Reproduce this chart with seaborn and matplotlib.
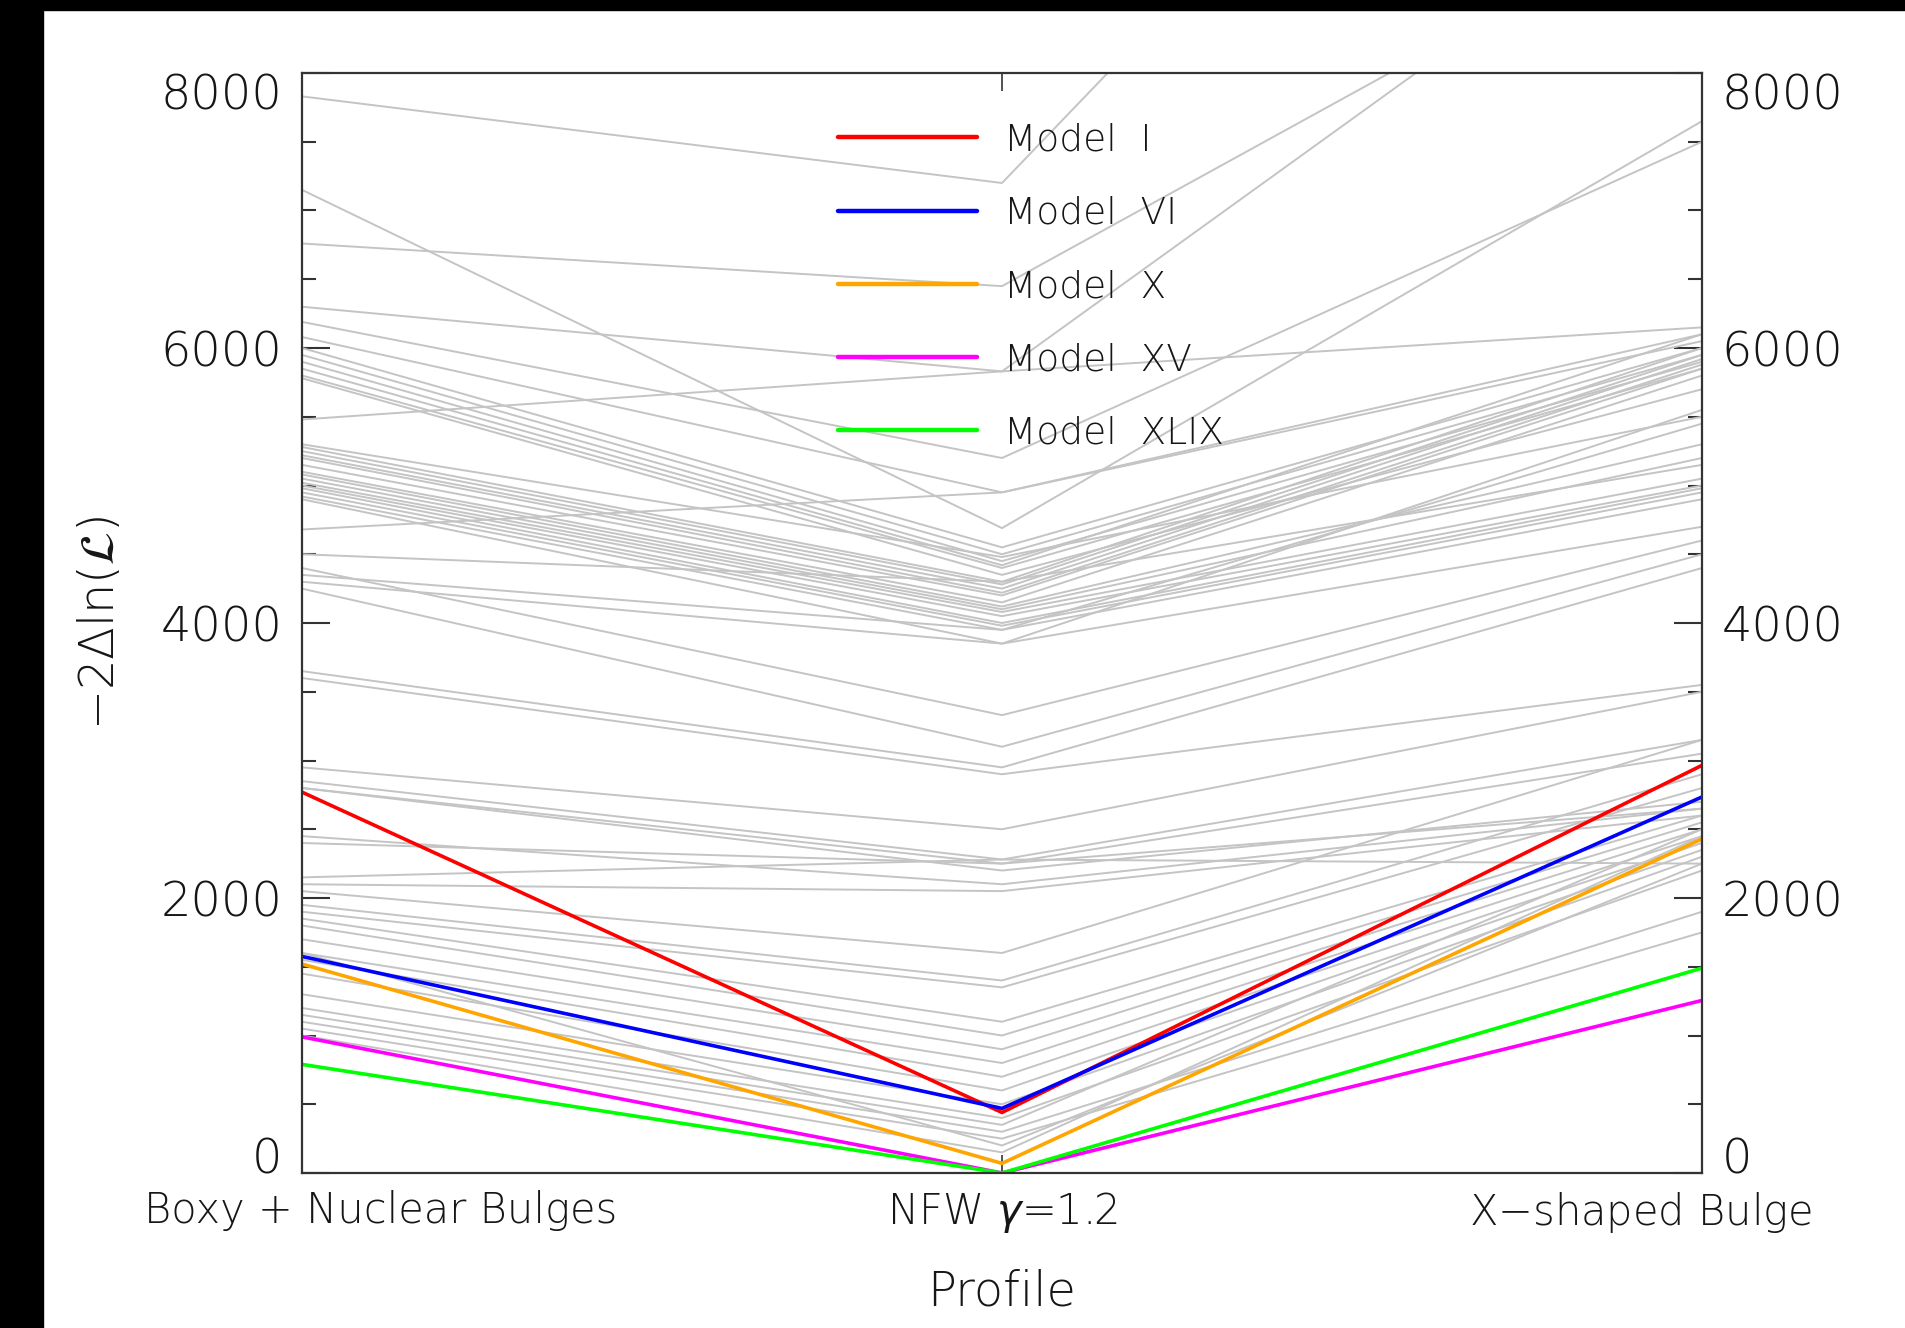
import numpy as np
import pandas as pd
import matplotlib
matplotlib.use("Agg")
import matplotlib.pyplot as plt
from matplotlib.patches import Rectangle
from matplotlib.ticker import MultipleLocator
from matplotlib.transforms import ScaledTranslation
import seaborn as sns

# Profiles on the x axis
profiles = ["Boxy + Nuclear Bulges", "NFW $\\gamma$=1.2", "X$-$shaped Bulge"]

# Highlighted models: -2 Delta ln(L) for each profile
model_names = ["Model  I", "Model  VI", "Model  X", "Model  XV", "Model  XLIX"]
model_colors = ["#ff0000", "#0000ff", "#ffa500", "#ff00ff", "#00ff00"]
model_left = [2770, 1575, 1520, 990, 790]
model_center = [440, 470, 70, 0, 0]
model_right = [2965, 2735, 2430, 1255, 1490]

# Remaining models (grey background lines)
gray_left = [7830, 6760, 6300, 7150, 6190, 5480, 4680, 6080, 6000, 5950,
             5900, 5850, 5800, 5780, 5300, 5280, 5250, 5220, 5200, 5150,
             5100, 5080, 5050, 5020, 5000, 4980, 4950, 4920, 4900, 4500,
             4400, 4350, 4300, 4250, 3650, 3600, 2950, 2850, 2800, 2800,
             2450, 2400, 2150, 2100, 2050, 1950, 1900, 1850, 1800, 1700,
             1600, 1550, 1450, 1300, 1200, 1100, 1050, 1000, 1600, 1150]
gray_center = [7200, 6450, 5830, 4690, 5200, 5830, 4950, 4950, 4550, 4500,
               4450, 4420, 4400, 4350, 4480, 4300, 4280, 4250, 4220, 4200,
               4150, 4120, 4100, 4080, 4050, 4000, 3980, 3950, 3850, 4300,
               3330, 3950, 3850, 3100, 2950, 2900, 2500, 2280, 2250, 2200,
               2100, 2250, 2280, 2050, 1600, 1400, 1350, 1100, 1000, 900,
               800, 700, 600, 500, 400, 300, 250, 150, 200, 350]
gray_right = [12500, 9250, 9500, 7650, 7500, 6150, 6100, 6050, 6000, 5950,
              5900, 6100, 5850, 5700, 5500, 6000, 5950, 5920, 5880, 5850,
              5800, 5300, 5200, 5050, 5000, 4980, 4950, 4900, 4700, 5150,
              4600, 5450, 5550, 4500, 4400, 3550, 3500, 3150, 3050, 2700,
              2650, 2650, 2250, 2600, 3150, 2900, 2800, 2600, 2550, 2500,
              2450, 2400, 2350, 2300, 2200, 1900, 1750, 2450, 2250, 2500]

x_pos = [0, 1, 2]

gray_df = pd.DataFrame({
    "line": np.repeat(np.arange(len(gray_left)), 3),
    "x": np.tile(x_pos, len(gray_left)),
    "value": np.column_stack([gray_left, gray_center, gray_right]).ravel(),
})
model_df = pd.DataFrame({
    "model": np.repeat(model_names, 3),
    "x": np.tile(x_pos, len(model_names)),
    "value": np.column_stack([model_left, model_center, model_right]).ravel(),
})

sns.set_theme(style="ticks")
plt.rcParams["font.family"] = ["DejaVu Sans"]
plt.rcParams["font.weight"] = "light"
plt.rcParams["axes.labelweight"] = "light"
plt.rcParams["mathtext.fontset"] = "custom"
plt.rcParams["mathtext.rm"] = "DejaVu Sans:light"
plt.rcParams["mathtext.it"] = "DejaVu Sans:italic:light"
plt.rcParams["mathtext.fallback"] = "cm"
text_color = "#161616"

fig = plt.figure(figsize=(19.06, 13.28), dpi=100, facecolor="white")
ax = fig.add_axes([302 / 1906, 155 / 1328, 1400 / 1906, 1100 / 1328])

sns.lineplot(data=gray_df, x="x", y="value", units="line", estimator=None,
             color="#c4c4c4", linewidth=1.4, ax=ax, legend=False)
sns.lineplot(data=model_df, x="x", y="value", hue="model",
             hue_order=model_names, palette=dict(zip(model_names, model_colors)),
             estimator=None, linewidth=2.6, ax=ax, legend=False)

ax.set_xlim(0, 2)
ax.set_ylim(0, 8000)
ax.set_xticks(x_pos)
ax.set_xticklabels(profiles, fontsize=30, color=text_color)
ax.yaxis.set_major_locator(MultipleLocator(2000))
ax.yaxis.set_minor_locator(MultipleLocator(500))
ax.tick_params(axis="y", which="major", direction="in", length=20, width=1.5,
               left=True, right=True, labelleft=True, labelright=True,
               labelsize=34.5, labelcolor=text_color, pad=14, color="#333333")
ax.tick_params(axis="y", which="minor", direction="in", length=10, width=1.5,
               left=True, right=True, color="#333333")
ax.tick_params(axis="x", which="major", direction="in", length=13, width=1.2,
               top=True, bottom=True, pad=12, color="#333333")

# end labels of the y axis sit inside the plotting range
for tick in ax.yaxis.get_major_ticks():
    val = tick.get_loc()
    if np.isclose(val, 0):
        tick.label1.set_verticalalignment("baseline")
        tick.label2.set_verticalalignment("baseline")
    elif np.isclose(val, 8000):
        tick.label1.set_verticalalignment("top")
        tick.label2.set_verticalalignment("top")

# outer profile names are pulled in toward the centre
xlabels = ax.get_xticklabels()
xlabels[0].set_transform(xlabels[0].get_transform()
                         + ScaledTranslation(79 / 100, 0, fig.dpi_scale_trans))
xlabels[2].set_transform(xlabels[2].get_transform()
                         + ScaledTranslation(-61 / 100, 0, fig.dpi_scale_trans))

for spine in ax.spines.values():
    spine.set_linewidth(1.6)
    spine.set_color("#333333")

ax.set_xlabel("Profile", fontsize=34.5, color=text_color, labelpad=24,
              fontweight="light")
ylab = ax.set_ylabel("$-2\\Delta\\ln(\\mathcal{L})$", fontsize=34.5,
                     color=text_color, labelpad=26)
ylab.set_math_fontfamily("dejavusans")

handles = [plt.Line2D([], [], color=c, linewidth=3.2) for c in model_colors]
ax.legend(handles, model_names, loc="upper left", bbox_to_anchor=(0.383, 0.955),
          frameon=False, fontsize=27, handlelength=3.7, handletextpad=0.72,
          labelspacing=1.02, borderpad=0, borderaxespad=0, labelcolor=text_color)

# black margin strips along the left and top edges
fig.add_artist(Rectangle((0, 0), 43 / 1906, 1, transform=fig.transFigure,
                         color="black", zorder=10))
fig.add_artist(Rectangle((0, 1 - 10 / 1328), 1, 10 / 1328,
                         transform=fig.transFigure, color="black", zorder=10))

fig.savefig("out.png", dpi=100, facecolor="white")
